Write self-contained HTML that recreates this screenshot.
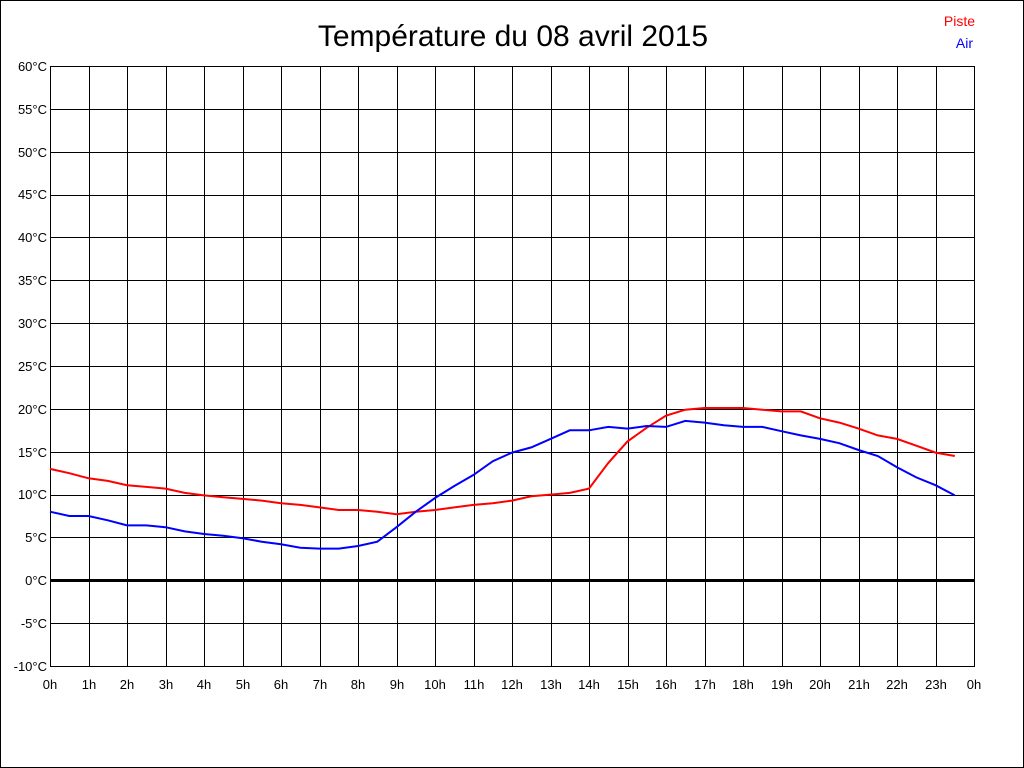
<!DOCTYPE html>
<html><head><meta charset="utf-8"><style>
html,body{margin:0;padding:0;background:#fff}
svg{display:block}
text{font-family:"Liberation Sans",sans-serif;font-size:13px;fill:#000}
</style></head><body>
<svg id="s" width="1024" height="768" xmlns="http://www.w3.org/2000/svg">
<rect x="0.5" y="0.5" width="1023" height="767" fill="#fff" stroke="#000"/>
<g id="grid" stroke="#000" stroke-width="1"></g>
<rect x="50.5" y="66.5" width="924" height="600" fill="none" stroke="#000"/>
<line x1="50" y1="580.5" x2="975" y2="580.5" stroke="#000" stroke-width="3"/>
<text x="513" y="46" text-anchor="middle" style="font-size:30px">Température du 08 avril 2015</text>
<text x="975" y="26" text-anchor="end" style="fill:#f00;font-size:14px">Piste</text>
<text x="973" y="48" text-anchor="end" style="fill:#00f;font-size:14px">Air</text>
<g text-anchor="end">
<text x="47" y="71">60°C</text><text x="47" y="114">55°C</text><text x="47" y="157">50°C</text>
<text x="47" y="199">45°C</text><text x="47" y="242">40°C</text><text x="47" y="285">35°C</text>
<text x="47" y="328">30°C</text><text x="47" y="371">25°C</text><text x="47" y="414">20°C</text>
<text x="47" y="457">15°C</text><text x="47" y="499">10°C</text><text x="47" y="542">5°C</text>
<text x="47" y="585">0°C</text><text x="47" y="628">-5°C</text><text x="47" y="671">-10°C</text>
</g>
<g text-anchor="middle">
<text x="50" y="689">0h</text><text x="89" y="689">1h</text><text x="127" y="689">2h</text>
<text x="166" y="689">3h</text><text x="204" y="689">4h</text><text x="243" y="689">5h</text>
<text x="281" y="689">6h</text><text x="320" y="689">7h</text><text x="358" y="689">8h</text>
<text x="397" y="689">9h</text><text x="435" y="689">10h</text><text x="474" y="689">11h</text>
<text x="512" y="689">12h</text><text x="551" y="689">13h</text><text x="589" y="689">14h</text>
<text x="628" y="689">15h</text><text x="666" y="689">16h</text><text x="705" y="689">17h</text>
<text x="743" y="689">18h</text><text x="782" y="689">19h</text><text x="820" y="689">20h</text>
<text x="859" y="689">21h</text><text x="897" y="689">22h</text><text x="936" y="689">23h</text>
<text x="974" y="689">0h</text>
</g>
<polyline id="red" fill="none" stroke="#f00" stroke-width="2"/>
<polyline id="blue" fill="none" stroke="#00f" stroke-width="2"/>
</svg>
<script>
var ns="http://www.w3.org/2000/svg",g=document.getElementById("grid");
function X(h){return 50+h*38.5}function Y(t){return 580.3-t*8.5714}
for(var i=1;i<24;i++){var l=document.createElementNS(ns,"line");var x=Math.round(X(i))+0.5;l.setAttribute("x1",x);l.setAttribute("x2",x);l.setAttribute("y1",66);l.setAttribute("y2",666);g.appendChild(l);}
for(var t=-5;t<60;t+=5){var l=document.createElementNS(ns,"line");var y=Math.round(Y(t))+0.5;l.setAttribute("x1",50);l.setAttribute("x2",974);l.setAttribute("y1",y);l.setAttribute("y2",y);g.appendChild(l);}
var r=[13,12.5,11.9,11.6,11.1,10.9,10.7,10.2,9.9,9.7,9.5,9.3,9.0,8.8,8.5,8.2,8.2,8.0,7.7,8.0,8.2,8.5,8.8,9.0,9.3,9.8,10.0,10.2,10.7,13.7,16.2,17.8,19.2,19.9,20.1,20.1,20.1,19.9,19.7,19.7,18.9,18.4,17.7,16.9,16.5,15.7,14.9,14.5];
var b=[8.0,7.5,7.5,7.0,6.4,6.4,6.2,5.7,5.4,5.2,4.9,4.5,4.2,3.8,3.7,3.7,4.0,4.5,6.2,8.0,9.6,11.0,12.3,13.9,14.9,15.5,16.5,17.5,17.5,17.9,17.7,18.0,17.9,18.6,18.4,18.1,17.9,17.9,17.4,16.9,16.5,16.0,15.2,14.5,13.2,12.0,11.1,9.9];
function pts(a){return a.map(function(v,i){return X(i/2).toFixed(1)+","+Y(v).toFixed(1)}).join(" ")}
document.getElementById("red").setAttribute("points",pts(r));
document.getElementById("blue").setAttribute("points",pts(b));
</script>
</body></html>
